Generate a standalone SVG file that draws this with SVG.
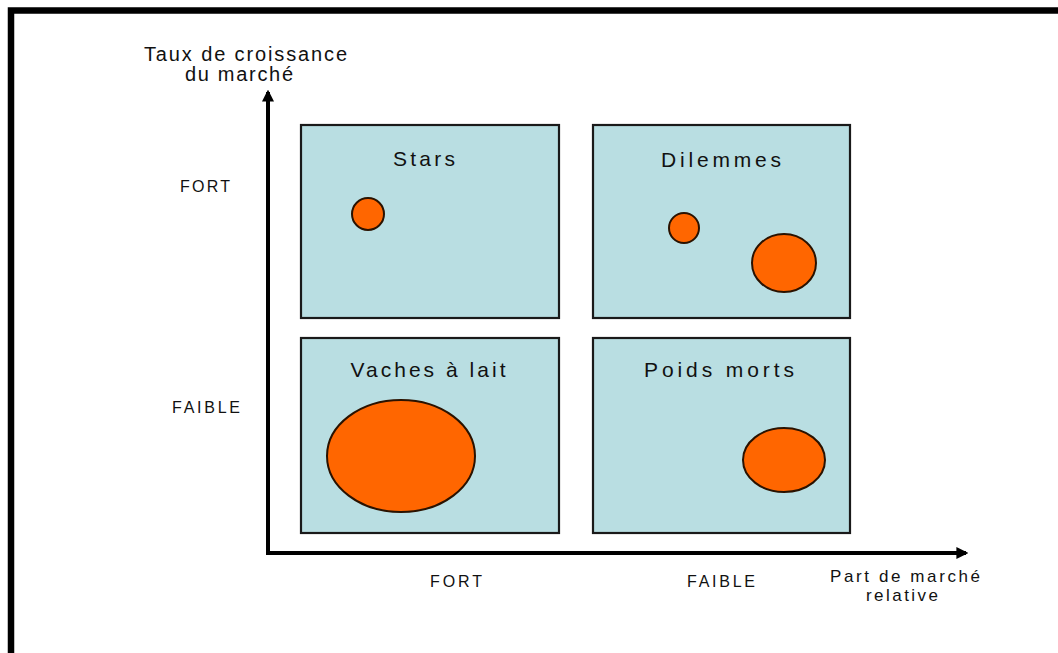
<svg xmlns="http://www.w3.org/2000/svg" width="1058" height="653" viewBox="0 0 1058 653">
<style>
text{font-family:"Liberation Sans",Arial,sans-serif;fill:#111}
.q{fill:#b9dee2;stroke:#1a1a1a;stroke-width:2.2}
.b{fill:#ff6600;stroke:#2a1200;stroke-width:2}
.t{font-size:21px;text-anchor:middle}
.l{font-size:16px}
.ax{stroke:#000;stroke-width:4;fill:none}
</style>
<defs>
<marker id="ah" viewBox="0 0 10 10" refX="8" refY="5" markerWidth="3" markerHeight="3" orient="auto" markerUnits="strokeWidth">
<path d="M0,0 L10,5 L0,10 z" fill="#000"/>
</marker>
</defs>
<rect width="1058" height="653" fill="#fff"/>
<path d="M11,653 V10.5 H1058" fill="none" stroke="#000" stroke-width="6.5"/>
<g id="connectors">
<path class="ax" d="M268,555 V92" marker-end="url(#ah)"/>
<path class="ax" d="M266,553 H966" marker-end="url(#ah)"/>
</g>
<g id="stars">
<rect class="q" x="301" y="125" width="258" height="193"/>
<text class="t" x="424" y="166" textLength="62" lengthAdjust="spacing">Stars</text>
<circle class="b" cx="368" cy="214" r="16"/>
</g>
<g id="dilemmes">
<rect class="q" x="593" y="125" width="257" height="193"/>
<text class="t" x="721" y="167" textLength="120" lengthAdjust="spacing">Dilemmes</text>
<circle class="b" cx="684" cy="228" r="15"/>
<ellipse class="b" cx="784" cy="263" rx="32" ry="29"/>
</g>
<g id="vaches">
<rect class="q" x="301" y="338" width="258" height="195"/>
<text class="t" x="428" y="377" textLength="155" lengthAdjust="spacing">Vaches à lait</text>
<ellipse class="b" cx="401" cy="456" rx="74" ry="56"/>
</g>
<g id="poids">
<rect class="q" x="593" y="338" width="257" height="195"/>
<text class="t" x="719" y="377" textLength="150" lengthAdjust="spacing">Poids morts</text>
<ellipse class="b" cx="784" cy="460" rx="41" ry="32"/>
</g>
<g id="labels">
<text font-size="20" x="144" y="61" textLength="203" lengthAdjust="spacing">Taux de croissance</text>
<text font-size="20" x="185" y="81" textLength="108" lengthAdjust="spacing">du marché</text>
<text class="l" x="180" y="192" textLength="50" lengthAdjust="spacing">FORT</text>
<text class="l" x="172" y="413" textLength="68" lengthAdjust="spacing">FAIBLE</text>
<text class="l" x="430" y="587" textLength="52" lengthAdjust="spacing">FORT</text>
<text class="l" x="687" y="587" textLength="68" lengthAdjust="spacing">FAIBLE</text>
<text font-size="17" x="830" y="582" textLength="150" lengthAdjust="spacing">Part de marché</text>
<text font-size="17" x="866" y="601" textLength="72" lengthAdjust="spacing">relative</text>
</g>
</svg>
